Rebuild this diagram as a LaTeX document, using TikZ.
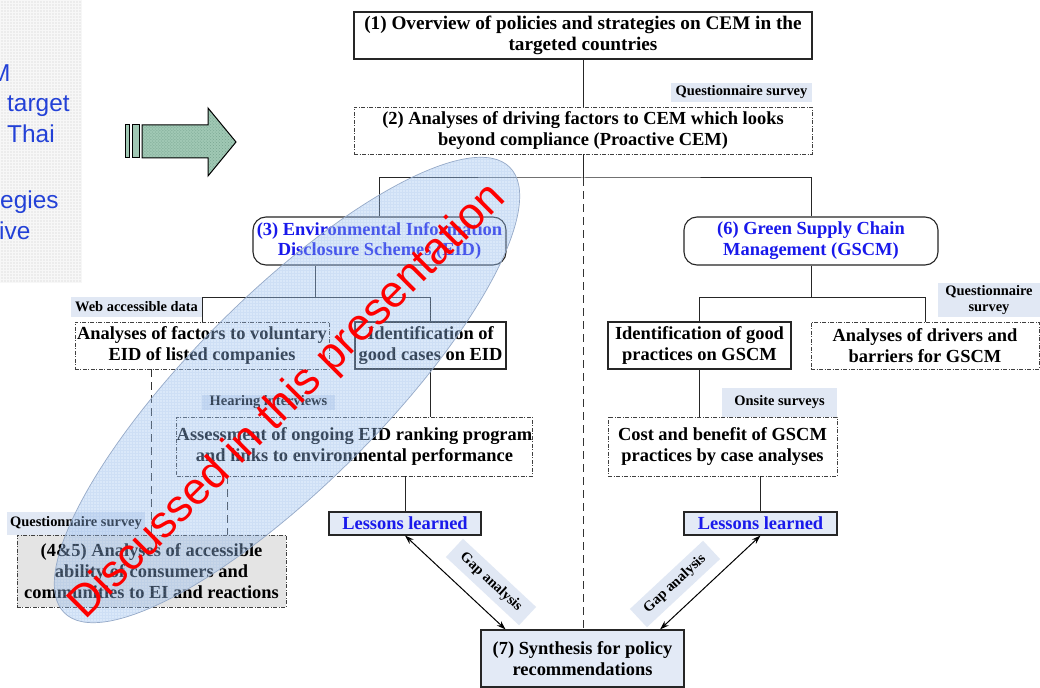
\documentclass[tikz,border=0pt]{standalone}
\usepackage{fontspec}
\setmainfont{Liberation Serif}
\newfontfamily\sansf{Liberation Sans}
\usetikzlibrary{calc,arrows.meta,patterns}

\definecolor{lblue}{RGB}{225,232,244}
\definecolor{boxblue}{RGB}{227,234,246}
\definecolor{txtblue}{RGB}{25,25,235}
\definecolor{panelblue}{RGB}{35,65,215}
\definecolor{panelgray}{RGB}{236,236,236}
\definecolor{arrowgreen}{RGB}{160,200,180}
\definecolor{arrowdots}{RGB}{120,165,145}
\definecolor{ovalblue}{RGB}{150,190,240}
\definecolor{ovalgrid}{RGB}{140,175,225}
\definecolor{ovaledge}{RGB}{150,170,200}
\definecolor{boxgray}{RGB}{228,228,228}

\tikzset{
  mainbox/.style={draw=black!85, line width=1.1bp, align=center, inner sep=0pt,
    font=\bfseries\fontsize{18.5}{21}\selectfont},
  solidbox/.style={mainbox},
  dashbox/.style={mainbox, draw=black!75, line width=0.9bp, dash pattern=on 4bp off 1.5bp on 1bp off 1.5bp},
  roundbox/.style={mainbox, rounded corners=13bp, text=txtblue},
  lessbox/.style={mainbox, fill=boxblue, text=txtblue},
  tag/.style={fill=lblue, inner sep=0pt, align=center,
    font=\bfseries\fontsize{14.5}{16}\selectfont},
  link/.style={draw=black!85, line width=1bp},
  dlink/.style={draw=black!80, line width=1bp, dash pattern=on 8bp off 5bp},
  gaparrow/.style={{Stealth[length=9bp,width=6bp]}-{Stealth[length=9bp,width=6bp]}, line width=1bp},
  paneltext/.style={anchor=base west, inner sep=0pt, text=panelblue,
    font=\sansf\fontsize{24.5}{24.5}\selectfont},
}

\begin{document}
\begin{tikzpicture}[x=1bp,y=1bp]
\useasboundingbox (0,0) rectangle (1040,-688);
\fill[white] (0,0) rectangle (1040,-688);

% grey side panel with its fine texture
\fill[panelgray] (0,0) rectangle (82,-283);
\begin{scope}
  \clip (0,0) rectangle (82,-283);
  \draw[white, line width=0.4bp, opacity=0.6, step=3bp] (0,-285) grid (84,0);
\end{scope}
\node[paneltext] (p1) at (-10,-82) {M};
\node[paneltext] (p2) at (7,-112) {target};
\node[paneltext] (p3) at (7,-143) {Thai};
\node[paneltext] (p4) at (0,-208) {egies};
\node[paneltext] (p5) at (-1,-239) {ive};

% block arrow
\fill[arrowgreen] (142,-125) -- (208,-125) -- (208,-108) -- (236,-142) -- (208,-176) -- (208,-158) -- (142,-158) -- cycle;
\fill[arrowgreen] (125,-125) rectangle (129,-158);
\fill[arrowgreen] (132,-125) rectangle (139,-158);
\fill[pattern=crosshatch dots, pattern color=arrowdots] (142,-125) -- (208,-125) -- (208,-108) -- (236,-142) -- (208,-176) -- (208,-158) -- (142,-158) -- cycle;
\draw[line width=1bp] (142,-125) -- (208,-125) -- (208,-108) -- (236,-142) -- (208,-176) -- (208,-158) -- (142,-158) -- cycle;
\draw[line width=1bp] (125,-125) rectangle (129,-158);
\draw[line width=1bp] (132,-125) rectangle (139,-158);

% main boxes
\node[solidbox, font=\bfseries\fontsize{19.3}{21.5}\selectfont, minimum width=458bp, minimum height=47bp] (b1) at (583,-35.5)
  {(1) Overview of policies and strategies on CEM in the\\targeted countries};
\node[dashbox, minimum width=458bp, minimum height=47bp] (b2) at (583,-130.5)
  {(2) Analyses of driving factors to CEM which looks\\beyond compliance (Proactive CEM)};
\node[roundbox, minimum width=253bp, minimum height=48bp] (b3) at (379.5,-241)
  {(3) Environmental Information\\Disclosure Schemes (EID)};
\node[roundbox, minimum width=254bp, minimum height=48bp] (b6) at (811,-241)
  {(6) Green Supply Chain\\Management (GSCM)};
\node[dashbox, minimum width=254bp, minimum height=47bp] (b4a) at (202,-345.5)
  {Analyses of factors to voluntary\\EID of listed companies};
\node[solidbox, minimum width=151bp, minimum height=47bp] (b4b) at (430.5,-345.5)
  {Identification of\\good cases on EID};
\node[dashbox, minimum width=355bp, minimum height=59bp] (b4c) at (354.5,-446.5)
  {Assessment of ongoing EID ranking program\\and links to environmental performance};
\node[dashbox, fill=boxgray, minimum width=269bp, minimum height=72bp] (b45) at (151.5,-571)
  {(4\&5) Analyses of accessible\\ability of consumers and\\communities to EI and reactions};
\node[lessbox, minimum width=152bp, minimum height=23bp] (lesL) at (405,-523.5)
  {Lessons learned};
\node[solidbox, minimum width=183bp, minimum height=47bp] (g1) at (699.5,-345.5)
  {Identification of good\\practices on GSCM};
\node[dashbox, minimum width=228bp, minimum height=47bp] (g2) at (925,-345.5)
  {Analyses of drivers and\\barriers for GSCM};
\node[dashbox, minimum width=229bp, minimum height=59bp] (g3) at (722.5,-446.5)
  {Cost and benefit of GSCM\\practices by case analyses};
\node[lessbox, minimum width=153bp, minimum height=23bp] (lesR) at (760.5,-523.5)
  {Lessons learned};
\node[solidbox, fill=boxblue, minimum width=203bp, minimum height=57bp] (b7) at (582.5,-658.5)
  {(7) Synthesis for policy\\recommendations};

% method tags
\node[tag, minimum width=141bp, minimum height=19bp] (q1) at (741.5,-92.5) {Questionnaire survey};
\node[tag, minimum width=131bp, minimum height=20bp] (web) at (136.5,-307) {Web accessible data};
\node[tag, minimum width=133bp, minimum height=15bp] (hear) at (268.5,-402.5) {Hearing interviews};
\node[tag, minimum width=138bp, minimum height=23bp] (q2) at (76,-523.5) {Questionnaire survey};
\node[tag, minimum width=115bp, minimum height=29bp] (onsite) at (779.5,-402.5) {Onsite surveys};
\node[tag, minimum width=102bp, minimum height=34bp] (q3) at (989,-300) {Questionnaire\\survey};

% tree connectors
\coordinate (j1) at (583,-178);
\draw[link] (b1) -- (b2);
\draw[link] (b2.south) -- (j1);
\draw[link] (b3.north) |- (j1) -| (b6.north);
\draw[dlink] (j1) -- (j1 |- b7.north);

\coordinate (b3o) at ($(b3.south west)!0.25!(b3.south east)$);
\coordinate (j2) at ($(b3o)+(0,-32)$);
\draw[link] (b3o) -- (j2);
\draw[link] (b4a.north) |- (j2) -| (b4b.north);
\draw[link] (b4b.south) -- (b4b.south |- b4c.north);
\draw[link] (b4c.south -| lesL.north) -- (lesL.north);
\coordinate (d1) at ($(b4a.south west)!0.3!(b4a.south east)$);
\coordinate (d2) at ($(b4c.south west)!0.144!(b4c.south east)$);
\draw[dlink] (d1) -- (d1 |- b45.north);
\draw[dlink] (d2) -- (d2 |- b45.north);

\coordinate (j3) at ($(b6.south)+(0,-32)$);
\draw[link] (b6.south) -- (j3);
\draw[link] (g1.north) |- (j3) -| (g2.north);
\draw[link] (g1.south) -- (g1.south |- g3.north);
\draw[link] (g3.south -| lesR.north) -- (lesR.north);

% gap analysis links
\draw[gaparrow] (lesL.south) -- ($(b7.north west)!0.123!(b7.north east)$);
\draw[gaparrow] (lesR.south) -- ($(b7.north west)!0.88!(b7.north east)$);
\node[tag, rotate=-43, minimum width=100bp, minimum height=25bp] (gapL) at (491,-582) {Gap analysis};
\node[tag, rotate=43, minimum width=100bp, minimum height=25bp] (gapR) at (675,-584) {Gap analysis};

% highlighted oval
\fill[ovalblue, opacity=0.35, rotate around={45:(287,-390)}] (287,-390) ellipse [x radius=315bp, y radius=95bp];
\begin{scope}
  \clip[rotate around={45:(287,-390)}] (287,-390) ellipse [x radius=315bp, y radius=95bp];
  \draw[ovalgrid, line width=0.3bp, opacity=0.15, step=3bp] (-30,-720) grid (570,-120);
\end{scope}
\draw[ovaledge, line width=0.7bp, rotate around={45:(287,-390)}] (287,-390) ellipse [x radius=315bp, y radius=95bp];

\node[text=red, inner sep=0pt, rotate=45, font=\sansf\fontsize{45}{45}\selectfont] (disc) at (288,-402)
  {Discussed in this presentation};
\end{tikzpicture}
\end{document}
